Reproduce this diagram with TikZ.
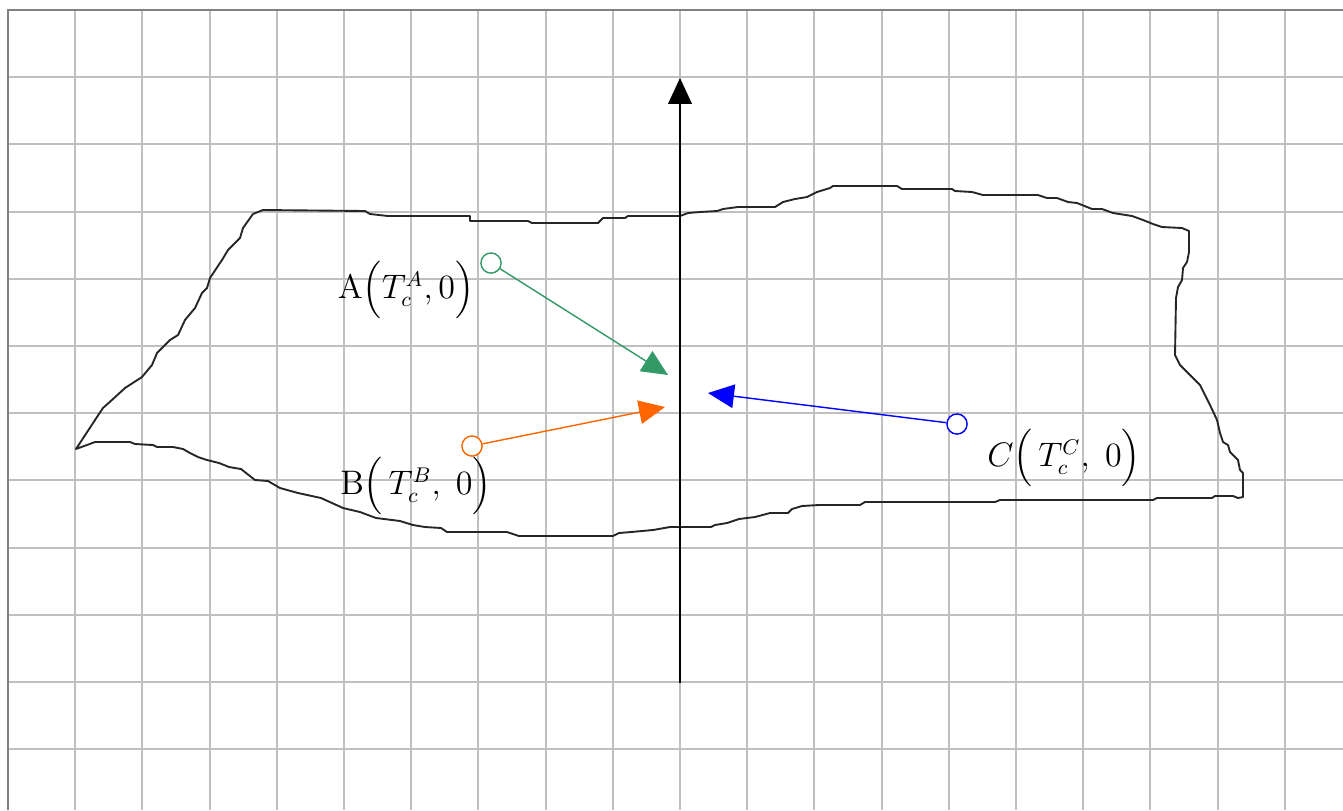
\documentclass[tikz,border=0pt]{standalone}
\usepackage{amsmath,amssymb}
\usepackage{tikz}
\usetikzlibrary{arrows.meta}
\definecolor{ptgreen}{RGB}{51,153,102}
\definecolor{ptorange}{RGB}{255,102,0}
\definecolor{ptblue}{RGB}{0,0,255}
\definecolor{gridgray}{RGB}{192,192,192}

\begin{document}
\begin{tikzpicture}[x=0.014881cm,y=-0.014881cm,>={Triangle[length=11pt,width=10pt]},
    pt/.style={draw,circle,fill=white,minimum size=0.3cm,inner sep=0pt,line width=0.6pt},
    lbl/.style={font=\fontsize{13.5}{16}\selectfont,inner sep=0pt}]
  \useasboundingbox (0,0) rectangle (1343,810);
  % grid
  \foreach \i in {1,...,19}
    \draw[gridgray,line width=0.8pt] (8+67.2*\i,10) -- (8+67.2*\i,810);
  \foreach \j in {1,...,11}
    \draw[gridgray,line width=0.8pt] (8,10+67.2*\j) -- (1343,10+67.2*\j);
  \draw[gray,line width=0.9pt] (8,810) -- (8,10) -- (1343,10);
  % region
  \draw[black!85,line width=0.8pt,line join=round] plot coordinates {
    (76,449) (97,417) (103,408) (113,399) (125,388) (142,377) (152,365) (157,353)
    (170,340) (178,335) (185,320) (195,308) (202,293) (207,288) (210,278) (222,260)
    (228,250) (240,238) (243,228) (253,214) (263,210) (365,211) (370,214) (388,216)
    (470,216) (470,221) (528,221) (532,223) (598,223) (603,218) (625,218) (628,216)
    (680,216) (688,213) (700,212) (717,211) (723,209) (738,207) (775,207) (783,202)
    (795,199) (807,197) (817,192) (830,188) (833,186) (897,186) (902,189) (952,189)
    (955,191) (972,192) (983,195) (1038,195) (1047,198) (1057,198) (1068,202) (1077,203)
    (1092,209) (1102,209) (1113,213) (1132,216) (1143,220) (1153,224) (1162,227) (1182,228)
    (1189,231) (1189,252) (1187,262) (1183,268) (1182,280) (1178,287) (1176,298) (1175,355)
    (1180,365) (1190,375) (1200,385) (1205,395) (1210,405) (1217,420) (1220,433) (1223,442)
    (1228,445) (1230,452) (1238,460) (1240,470) (1243,473) (1243,497) (1238,498) (1233,496)
    (1215,496) (1212,498) (1157,498) (1153,500) (1000,500) (995,502) (865,502) (860,505)
    (819,505) (802,506) (792,509) (788,513) (770,513) (755,517) (739,519) (727,523)
    (715,525) (711,527) (670,527) (653,530) (631,532) (619,533) (613,536) (519,536)
    (507,532) (447,532) (441,528) (425,527) (413,525) (400,521) (376,518) (360,512)
    (343,508) (321,498) (298,493) (280,488) (268,481) (255,480) (241,469) (229,467)
    (219,463) (207,460) (198,457) (190,453) (183,449) (173,447) (157,447) (153,445)
    (135,444) (130,442) (95,442) (87,445)} -- cycle;
  % axis
  \coordinate (axbot) at (680,683);
  \coordinate (axtop) at (680,78);
  \draw[-{Triangle[length=11pt,width=10pt]},line width=0.9pt] (axbot) -- (axtop);
  % points and their moves
  \node[pt,draw=ptgreen] (pa) at (491,263) {};
  \node[pt,draw=ptorange] (pb) at (472,446) {};
  \node[pt,draw=ptblue] (pc) at (957,424) {};
  \coordinate (ta) at (668,375);
  \coordinate (tb) at (665,407);
  \coordinate (tc) at (708,393);
  \draw[->,ptgreen,line width=0.6pt] (pa) -- (ta);
  \draw[->,ptorange,line width=0.6pt] (pb) -- (tb);
  \draw[->,ptblue,line width=0.6pt] (pc) -- (tc);
  \node[lbl] (la) at (406,290) {$\mathrm{A}\Bigl(T_c^A, 0\Bigr)$};
  \node[lbl] (lb) at (416,486) {$\mathrm{B}\Bigl(\,T_c^B,\;0\Bigr)$};
  \node[lbl] (lc) at (1064,458) {$C\Bigl(\,T_c^C,\;0\Bigr)$};
\end{tikzpicture}
\end{document}
